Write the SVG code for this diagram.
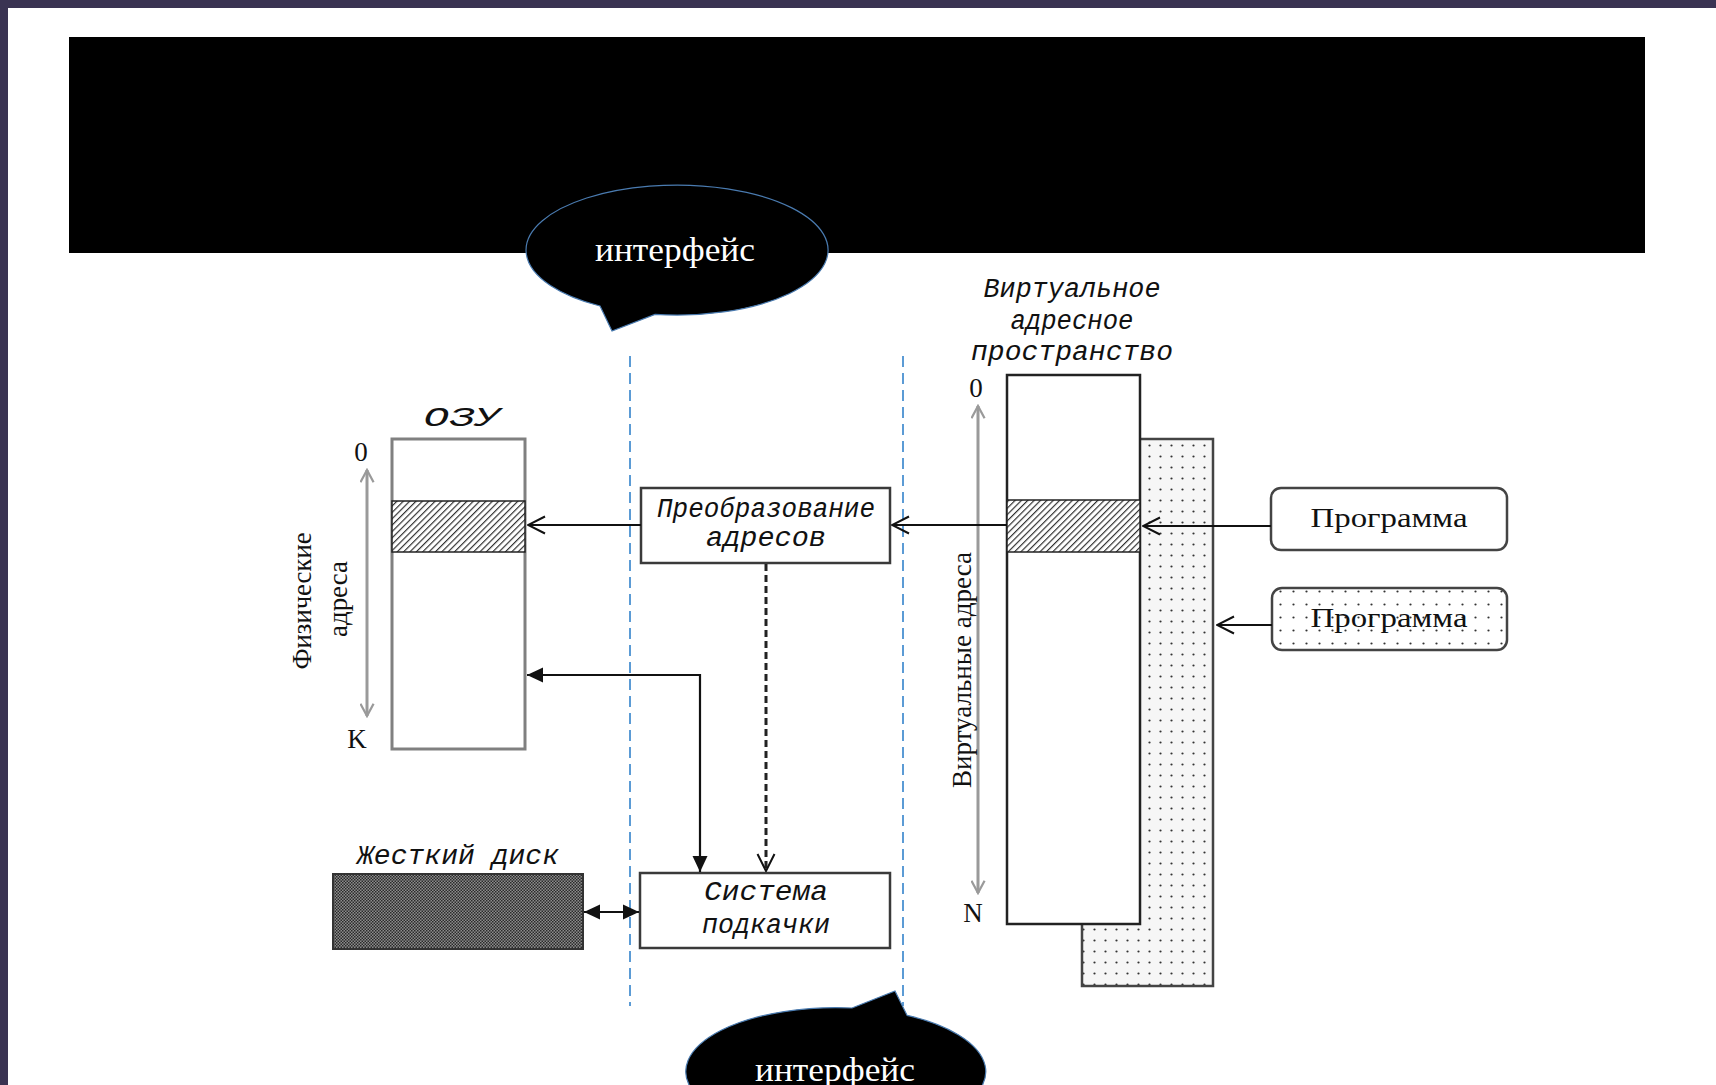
<svg xmlns="http://www.w3.org/2000/svg" width="1716" height="1085" viewBox="0 0 1716 1085">
  <defs>
    <style>
      .box { fill: #ffffff; stroke: #3a3a3a; stroke-width: 2.5; }
      .ram { fill: #ffffff; stroke: #808080; stroke-width: 3; }
      .lbl { font-family: "Liberation Mono", "DejaVu Sans Mono", monospace; font-style: italic; font-size: 27px; fill: #111; text-anchor: middle; }
      .ser { font-family: "Liberation Serif", "DejaVu Serif", serif; font-size: 27px; fill: #111; text-anchor: middle; }
      .bubble { fill: #000000; stroke: #4a7bb0; stroke-width: 1.2; }
      .btext { font-family: "Liberation Serif", "DejaVu Serif", serif; font-size: 34px; fill: #ffffff; text-anchor: middle; }
      .divider { stroke: #5b9bd5; stroke-width: 2; stroke-dasharray: 11 6; fill: none; }
      .link { stroke: #111; stroke-width: 2.2; fill: none; }
      .axis { stroke: #9a9a9a; stroke-width: 3; fill: none; }
    </style>
    <pattern id="hatch" patternUnits="userSpaceOnUse" width="4.5" height="10" patternTransform="rotate(45)">
      <rect width="4.5" height="10" fill="#ffffff"/>
      <line x1="0.6" y1="0" x2="0.6" y2="10" stroke="#222" stroke-width="1.1"/>
    </pattern>
    <pattern id="dots" patternUnits="userSpaceOnUse" width="11" height="11">
      <rect width="11" height="11" fill="#f6f6f6"/>
      <circle cx="5.5" cy="5.5" r="1.1" fill="#333"/>
    </pattern>
    <pattern id="dots2" patternUnits="userSpaceOnUse" width="13" height="13">
      <rect width="13" height="13" fill="#ffffff"/>
      <circle cx="6.5" cy="6.5" r="1.1" fill="#333"/>
    </pattern>
    <pattern id="checker" patternUnits="userSpaceOnUse" width="3" height="3">
      <rect width="3" height="3" fill="#8c8c8c"/>
      <rect width="1.5" height="1.5" fill="#2a2a2a"/>
      <rect x="1.5" y="1.5" width="1.5" height="1.5" fill="#2a2a2a"/>
    </pattern>
    <marker id="open" viewBox="0 0 20 20" refX="19" refY="10" markerWidth="20" markerHeight="20" markerUnits="userSpaceOnUse" orient="auto-start-reverse">
      <path d="M2,1.5 L19,10 L2,18.5" fill="none" stroke="#111" stroke-width="2"/>
    </marker>
    <marker id="openGray" viewBox="0 0 16 16" refX="14" refY="8" markerWidth="15" markerHeight="15" markerUnits="userSpaceOnUse" orient="auto-start-reverse">
      <path d="M1,1 L14,8 L1,15" fill="none" stroke="#9a9a9a" stroke-width="2.4"/>
    </marker>
    <marker id="solid" viewBox="0 0 16 16" refX="16" refY="8" markerWidth="16" markerHeight="16" markerUnits="userSpaceOnUse" orient="auto-start-reverse">
      <path d="M0,0.5 L16,8 L0,15.5 Z" fill="#111"/>
    </marker>
  </defs>

  <!-- page frame -->
  <rect width="1716" height="1085" fill="#ffffff"/>
  <rect x="0" y="0" width="1716" height="8" fill="#3a3352"/>
  <rect x="0" y="0" width="8" height="1085" fill="#3a3352"/>
  <rect x="69" y="37" width="1576" height="216" fill="#000000"/>

  <!-- interface dividers -->
  <g id="dividers">
    <line class="divider" x1="630" y1="356" x2="630" y2="1006"/>
    <line class="divider" x1="903" y1="356" x2="903" y2="1006"/>
  </g>

  <!-- physical memory -->
  <g id="ram">
    <text class="lbl" x="462" y="426" font-size="31" textLength="77" lengthAdjust="spacingAndGlyphs">ОЗУ</text>
    <rect class="ram" x="392" y="439" width="133" height="310"/>
    <rect x="392" y="501" width="133" height="51" fill="url(#hatch)" stroke="#222" stroke-width="1.5"/>
    <text class="ser" x="361" y="461">0</text>
    <text class="ser" x="357" y="748">K</text>
    <line class="axis" x1="367" y1="470" x2="367" y2="716" marker-start="url(#openGray)" marker-end="url(#openGray)"/>
    <text class="ser" transform="translate(311,601) rotate(-90)" textLength="137" lengthAdjust="spacingAndGlyphs">Физические</text>
    <text class="ser" transform="translate(347,599) rotate(-90)" textLength="76" lengthAdjust="spacingAndGlyphs">адреса</text>
  </g>

  <!-- address translation -->
  <g id="translate">
    <rect class="box" x="641" y="488" width="249" height="75"/>
    <text class="lbl" x="766" y="517" textLength="218" lengthAdjust="spacingAndGlyphs">Преобразование</text>
    <text class="lbl" x="766" y="546" textLength="120" lengthAdjust="spacingAndGlyphs">адресов</text>
  </g>

  <!-- paging system -->
  <g id="paging">
    <rect class="box" x="640" y="873" width="250" height="75"/>
    <text class="lbl" x="766" y="900" textLength="124" lengthAdjust="spacingAndGlyphs">Система</text>
    <text class="lbl" x="766" y="933" textLength="128" lengthAdjust="spacingAndGlyphs">подкачки</text>
  </g>

  <!-- hard disk -->
  <g id="disk">
    <text class="lbl" x="458" y="864" textLength="202" lengthAdjust="spacingAndGlyphs">Жесткий диск</text>
    <rect x="333" y="874" width="250" height="75" fill="url(#checker)" stroke="#333" stroke-width="2"/>
  </g>

  <!-- virtual address space -->
  <g id="virtual">
    <text class="lbl" x="1072" y="297" textLength="177" lengthAdjust="spacingAndGlyphs">Виртуальное</text>
    <text class="lbl" x="1072" y="329" textLength="123" lengthAdjust="spacingAndGlyphs">адресное</text>
    <text class="lbl" x="1072" y="360" textLength="202" lengthAdjust="spacingAndGlyphs">пространство</text>
    <rect x="1082" y="439" width="131" height="547" fill="url(#dots)" stroke="#444" stroke-width="2.5"/>
    <rect x="1007" y="375" width="133" height="549" fill="#ffffff" stroke="#222" stroke-width="2.5"/>
    <rect x="1007" y="500" width="133" height="52" fill="url(#hatch)" stroke="#222" stroke-width="1.5"/>
    <text class="ser" x="976" y="397">0</text>
    <text class="ser" x="973" y="922">N</text>
    <line class="axis" x1="978" y1="406" x2="978" y2="893" marker-start="url(#openGray)" marker-end="url(#openGray)"/>
    <text class="ser" font-size="29" transform="translate(971,670) rotate(-90)" textLength="236" lengthAdjust="spacingAndGlyphs">Виртуальные адреса</text>
  </g>

  <!-- programs -->
  <g id="program1">
    <rect x="1271" y="488" width="236" height="62" rx="10" fill="#ffffff" stroke="#444" stroke-width="2.5"/>
    <text class="ser" x="1389" y="527" font-size="30" textLength="157" lengthAdjust="spacingAndGlyphs">Программа</text>
  </g>
  <g id="program2">
    <rect x="1272" y="588" width="235" height="62" rx="10" fill="url(#dots2)" stroke="#444" stroke-width="2.5"/>
    <text class="ser" x="1389" y="627" font-size="30" textLength="157" lengthAdjust="spacingAndGlyphs">Программа</text>
  </g>

  <!-- connectors -->
  <g id="connectors">
    <line class="link" x1="641" y1="525" x2="528" y2="525" marker-end="url(#open)"/>
    <line class="link" x1="1007" y1="525" x2="892" y2="525" marker-end="url(#open)"/>
    <line class="link" x1="1271" y1="526" x2="1143" y2="526" marker-end="url(#open)"/>
    <line class="link" x1="1272" y1="625" x2="1217" y2="625" marker-end="url(#open)"/>
    <line x1="766" y1="564" x2="766" y2="871" stroke="#222" stroke-width="3" stroke-dasharray="7 4" marker-end="url(#open)"/>
    <path class="link" d="M527,675 L700,675 L700,872" marker-start="url(#solid)" marker-end="url(#solid)"/>
    <line class="link" x1="584" y1="912" x2="639" y2="912" marker-start="url(#solid)" marker-end="url(#solid)"/>
  </g>

  <!-- interface callouts -->
  <g id="callout-top">
    <path class="bubble" d="M655,314.4 A151,65 0 1,0 600,306 L612,331 Z"/>
    <text class="btext" x="675" y="261" textLength="160" lengthAdjust="spacingAndGlyphs">интерфейс</text>
  </g>
  <g id="callout-bottom">
    <path class="bubble" d="M852,1008 L895,991 L907,1015.3 A150,64 0 1,1 852,1008 Z"/>
    <text class="btext" x="835" y="1081" textLength="160" lengthAdjust="spacingAndGlyphs">интерфейс</text>
  </g>
</svg>
